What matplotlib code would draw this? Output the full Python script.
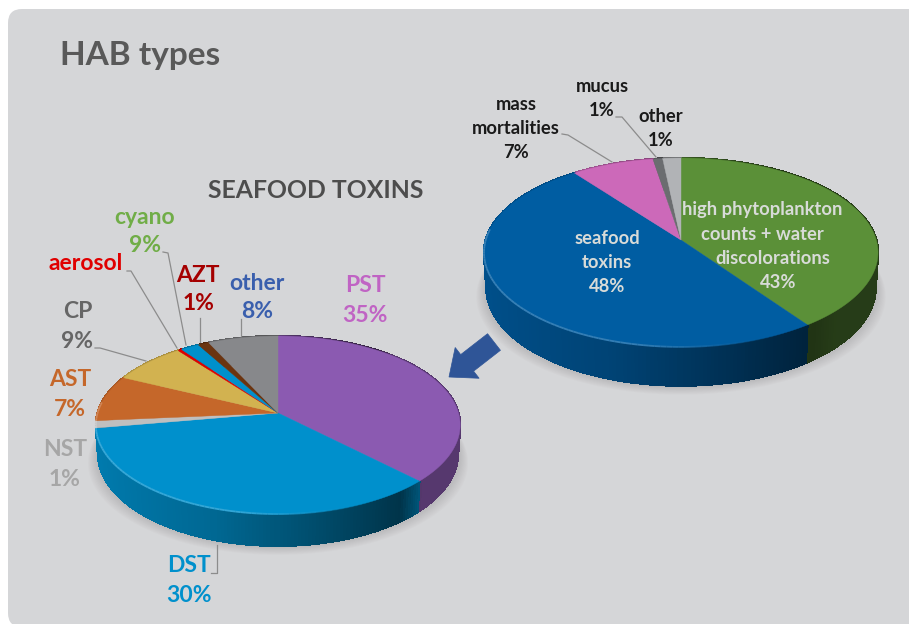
#!/usr/bin/env python3
"""HAB types: two perspective 3d pies drawn with plain polygons"""

import numpy as np
import matplotlib
matplotlib.use("Agg")
import matplotlib.pyplot as plt
from matplotlib.colors import to_rgb
from matplotlib.patches import FancyBboxPatch, FancyArrow, Polygon
from matplotlib.collections import LineCollection

plt.rcParams["font.family"] = ["Lato", "DejaVu Sans"]

# slice sizes as they look in the picture, clockwise from 12 o'clock
hab_names = ["high phytoplankton", "seafood toxins", "mass mortalities", "mucus", "other"]
hab_slices = [40.2, 49.5, 7.7, 0.9, 1.7]
hab_colors = ["#5b9038", "#005da2", "#cc69b9", "#6b6d70", "#b1b3b6"]

tox_names = ["PST", "DST", "NST", "AST", "CP", "aerosol", "cyano", "AZT", "other"]
tox_slices = [37.5, 34.9, 1.3, 8.4, 7.5, 0.4, 1.9, 1.1, 7.1]
tox_colors = ["#8b5ab1", "#0090cc", "#bfbfbf", "#c5672a", "#d2b250",
              "#e00000", "#0090cc", "#6b3410", "#87888b"]

# labels printed on the chart
hab_percent = ["43%", "48%", "7%", "1%", "1%"]
tox_percent = ["35%", "30%", "1%", "7%", "9%", "9%", "1%", "8%"]


def project(p, theta, z=0.0, r=1.0):
    """unit disc angle (deg clockwise from top) to pixel position."""
    u = r * np.sin(np.radians(theta))
    v = r * np.cos(np.radians(theta))
    w = 1 + p["k"] * v
    s = 1 - 0.012 * z
    return (p["cx"] + p["a"] * s * u / w,
            p["cy"] - p["b"] * s * v / w + z * p["d"] / w)


def shade(color, f):
    return tuple(np.clip(np.array(to_rgb(color)) * f, 0, 1))


def tint(color, f):
    c = np.array(to_rgb(color))
    return tuple(c + (1 - c) * f)


def draw_pie(ax, p, slices, colors):
    values = np.array(slices, dtype=float)
    edges = np.concatenate([[0], np.cumsum(values) / values.sum() * 360])

    # soft shadow under the pie
    t = np.linspace(0, 360, 240)
    for grow in np.linspace(10, 1, 10):
        x, y = project(p, t, 1, 1.0)
        x = p["cx"] + (x - p["cx"]) * (1 + grow / p["a"])
        y = y + grow * 0.9
        ax.add_patch(Polygon(np.column_stack([x, y]), closed=True, fc="#808080",
                             ec="none", alpha=0.035, zorder=2))

    # side wall, back to front, one thin strip per step
    strips = []
    for i, c in enumerate(colors):
        steps = np.arange(edges[i], edges[i + 1], 1.0)
        for th in steps:
            th2 = min(th + 1.0, edges[i + 1])
            strips.append((np.cos(np.radians(th)), th, th2, c))
    strips.sort(key=lambda s: -s[0])
    for _, th, th2, c in strips:
        mid = np.sin(np.radians((th + th2) / 2))
        f = np.interp(mid, [-1, -0.3, 0.6, 0.72, 1], [0.86, 0.72, 0.36, p["edge"], p["edge"]])
        x1, y1 = project(p, th)
        x2, y2 = project(p, th2)
        x3, y3 = project(p, th2, 1)
        x4, y4 = project(p, th, 1)
        col = shade(c, f)
        ax.add_patch(Polygon([(x1, y1), (x2, y2), (x3, y3), (x4, y4)], closed=True,
                             fc=col, ec=col, lw=1.0, zorder=3, antialiased=False))

    # top face
    for i, c in enumerate(colors):
        th = np.linspace(edges[i], edges[i + 1], max(3, int(edges[i + 1] - edges[i]) * 2))
        x, y = project(p, th)
        pts = np.column_stack([np.r_[p["cx"], x], np.r_[p["cy"], y]])
        ax.add_patch(Polygon(pts, closed=True, fc=c, ec=c, lw=0.3, zorder=4))

    # highlight along the front left rim
    segs, cols = [], []
    for i, c in enumerate(colors):
        for th in np.arange(edges[i], edges[i + 1], 1.5):
            th2 = min(th + 1.5, edges[i + 1])
            x1, y1 = project(p, th)
            x2, y2 = project(p, th2)
            strength = np.interp(np.sin(np.radians(th)), [-1, -0.2, 0.5], [0.22, 0.2, 0.0])
            if np.cos(np.radians(th)) > 0.1:
                strength = 0.0
            segs.append([(x1, y1), (x2, y2)])
            cols.append(tint(c, strength) + (min(1.0, strength * 6),))
    ax.add_collection(LineCollection(segs, colors=cols, linewidths=1.3, zorder=5))


def label(ax, x, y, s, color, size=16.5):
    ax.text(x, y, s, color=color, fontsize=size, fontweight="bold",
            ha="center", va="center", zorder=8)


def leader(ax, pts):
    ax.plot([q[0] for q in pts], [q[1] for q in pts], color="#8c8c8c", lw=0.9, zorder=7)


fig = plt.figure(figsize=(9.09, 6.24), dpi=100)
ax = fig.add_axes([0, 0, 1, 1])
ax.set_xlim(0, 909)
ax.set_ylim(624, 0)
ax.axis("off")

ax.add_patch(FancyBboxPatch((8, 9), 960, 618, boxstyle="round,pad=0,rounding_size=14",
                            fc="#d5d6d8", ec="none", zorder=1))

hab_pie = dict(cx=681, cy=240, a=195.3, b=92.8, k=0.132, d=34.7, edge=0.42)
tox_pie = dict(cx=278, cy=413, a=180.5, b=87.4, k=0.135, d=28.5, edge=0.62)
draw_pie(ax, hab_pie, hab_slices, hab_colors)
draw_pie(ax, tox_pie, tox_slices, tox_colors)

ax.add_patch(FancyArrow(494, 342, -45, 35, width=21, head_width=39, head_length=23,
                        length_includes_head=True, fc="#2f5597", ec="#2f5597", lw=0.5, zorder=6))

ax.text(60, 55, "HAB types", color="#595959", fontsize=24, fontweight="bold",
        ha="left", va="center", zorder=8)
ax.text(316, 190, "SEAFOOD TOXINS", color="#4d4d4d", fontsize=17.8, fontweight="bold",
        ha="center", va="center", zorder=8)

# right pie labels
black = "#1a1a1a"
pale = "#d8dbd8"
small = 13.2
label(ax, 516, 105, "mass", black, small)
label(ax, 516, 129, "mortalities", black, small)
label(ax, 516, 153, hab_percent[2], black, small)
label(ax, 602, 87, "mucus", black, small)
label(ax, 602, 111, hab_percent[3], black, small)
label(ax, 661, 116, "other", black, small)
label(ax, 661, 140, hab_percent[4], black, small)
label(ax, 762, 210, "high phytoplankton", pale, small)
label(ax, 762, 234, "counts + water", pale, small)
label(ax, 773, 258, "discolorations", pale, small)
label(ax, 778, 282, hab_percent[0], pale, small)
label(ax, 607, 238, "seafood", pale, small)
label(ax, 607, 262, "toxins", pale, small)
label(ax, 607, 286, hab_percent[1], pale, small)

# left pie labels
label(ax, 145, 217, "cyano", "#70ad47")
label(ax, 145, 246, tox_percent[5], "#70ad47")
label(ax, 86, 264, "aerosol", "#e00000")
label(ax, 198, 275, "AZT", "#a50000")
label(ax, 198, 304, tox_percent[6], "#a50000")
label(ax, 257, 283, "other", "#3a5fad")
label(ax, 257, 312, tox_percent[7], "#3a5fad")
label(ax, 365, 286, "PST", "#c064c4")
label(ax, 365, 316, tox_percent[0], "#c064c4")
label(ax, 78, 311, "CP", "#666666")
label(ax, 77, 342, tox_percent[4], "#666666")
label(ax, 70, 380, "AST", "#c5672a")
label(ax, 70, 410, tox_percent[3], "#c5672a")
label(ax, 65, 449, "NST", "#a6a6a6")
label(ax, 65, 479, tox_percent[2], "#a6a6a6")
label(ax, 189, 566, "DST", "#0090cc")
label(ax, 189, 596, tox_percent[1], "#0090cc")

leader(ax, [(163, 252), (168, 253), (186, 345)])
leader(ax, [(127, 271), (131, 271), (177, 348)])
leader(ax, [(200, 318), (200, 342)])
leader(ax, [(241, 319), (241, 336)])
leader(ax, [(95, 348), (100, 348), (146, 361)])
leader(ax, [(217, 545), (217, 573), (211, 573)])
leader(ax, [(562, 134), (568, 135), (612, 162)])
leader(ax, [(616, 117), (622, 117), (656, 157)])

fig.savefig("out.png", dpi=100)
plt.close(fig)
